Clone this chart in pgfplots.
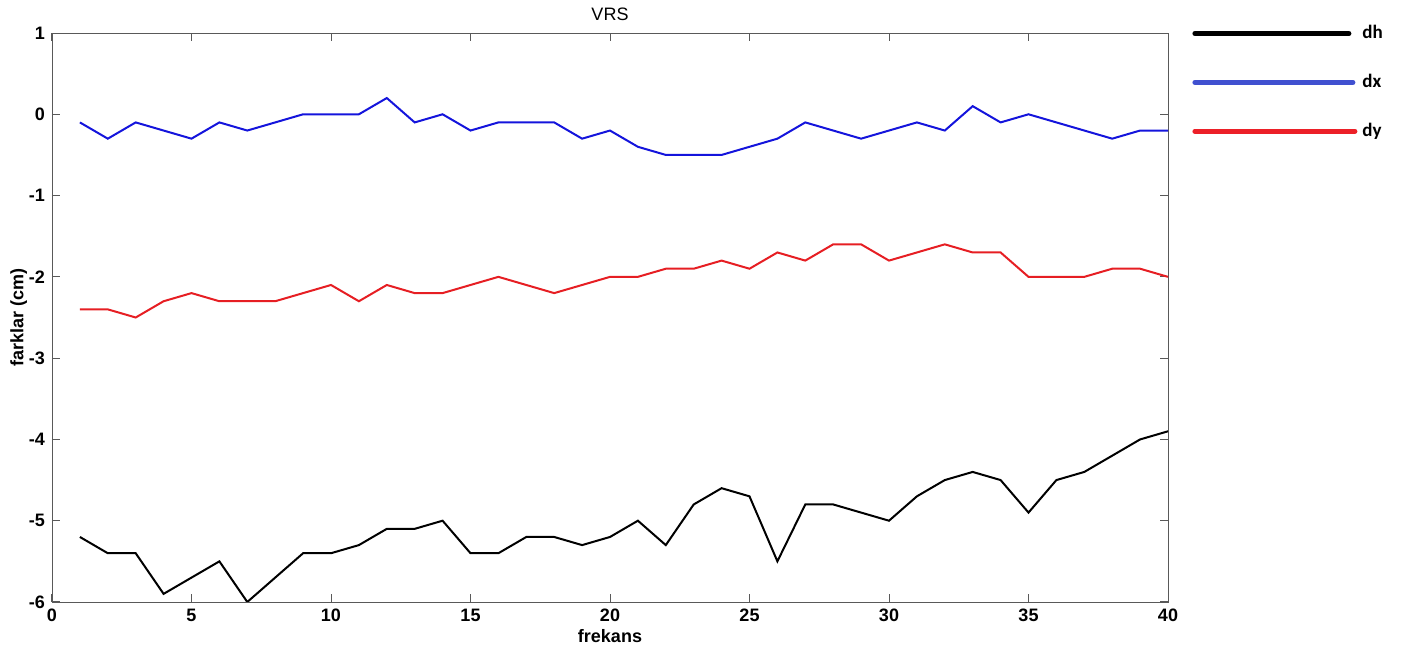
\documentclass[border=0pt]{standalone}
\usepackage{pgfplots}
\pgfplotsset{compat=1.18}
\usepackage{fontspec}
\setmainfont{Liberation Sans}
\newfontfamily\legfont{Carlito}
\definecolor{mblue}{RGB}{20,20,220}
\definecolor{mred}{RGB}{230,30,35}
\definecolor{lblue}{RGB}{64,80,208}
\definecolor{lred}{RGB}{236,32,40}
\begin{document}
\begin{tikzpicture}[x=1pt,y=1pt]
\useasboundingbox (-26,-24.5) rectangle (674.5,301);
\begin{axis}[
  at={(0,0)}, anchor=south west,
  scale only axis, width=558pt, height=284.5pt,
  xmin=0, xmax=40, ymin=-6, ymax=1,
  xtick={0,5,...,40}, ytick={-6,-5,...,1},
  tick align=inside, tick pos=both,
  major tick length=4pt,
  axis line style={gray!70!black},
  tick style={gray!70!black, line width=0.5pt},
  /pgf/number format/assume math mode=true,
  ticklabel style={font=\bfseries\fontsize{9}{10}\selectfont},
  title={VRS}, title style={font=\fontsize{9}{10}\selectfont, yshift=-3.5pt},
  xlabel={\bfseries frekans}, ylabel={\bfseries farklar (cm)},
  xlabel style={font=\fontsize{9}{10}\selectfont, yshift=3pt},
  ylabel style={font=\fontsize{9}{10}\selectfont, yshift=-6pt},
  legend style={at={(axis description cs:1,1)}, anchor=north west, xshift=12pt, yshift=6.5pt,
    draw=none, fill=none, font=\legfont\bfseries\fontsize{9.5}{10}\selectfont,
    row sep=11.25pt, inner sep=0pt, nodes={inner sep=2.5pt}},
  legend cell align=left,
]
\addplot[black, line width=1pt, forget plot] coordinates {
(1,-5.2)(2,-5.4)(3,-5.4)(4,-5.9)(5,-5.7)(6,-5.5)(7,-6.0)(8,-5.7)(9,-5.4)(10,-5.4)
(11,-5.3)(12,-5.1)(13,-5.1)(14,-5.0)(15,-5.4)(16,-5.4)(17,-5.2)(18,-5.2)(19,-5.3)(20,-5.2)
(21,-5.0)(22,-5.3)(23,-4.8)(24,-4.6)(25,-4.7)(26,-5.5)(27,-4.8)(28,-4.8)(29,-4.9)(30,-5.0)
(31,-4.7)(32,-4.5)(33,-4.4)(34,-4.5)(35,-4.9)(36,-4.5)(37,-4.4)(38,-4.2)(39,-4.0)(40,-3.9)};
\addplot[mblue, line width=1pt, forget plot] coordinates {
(1,-0.1)(2,-0.3)(3,-0.1)(4,-0.2)(5,-0.3)(6,-0.1)(7,-0.2)(8,-0.1)(9,0)(10,0)
(11,0)(12,0.2)(13,-0.1)(14,0)(15,-0.2)(16,-0.1)(17,-0.1)(18,-0.1)(19,-0.3)(20,-0.2)
(21,-0.4)(22,-0.5)(23,-0.5)(24,-0.5)(25,-0.4)(26,-0.3)(27,-0.1)(28,-0.2)(29,-0.3)(30,-0.2)
(31,-0.1)(32,-0.2)(33,0.1)(34,-0.1)(35,0)(36,-0.1)(37,-0.2)(38,-0.3)(39,-0.2)(40,-0.2)};
\addplot[mred, line width=1pt, forget plot] coordinates {
(1,-2.4)(2,-2.4)(3,-2.5)(4,-2.3)(5,-2.2)(6,-2.3)(7,-2.3)(8,-2.3)(9,-2.2)(10,-2.1)
(11,-2.3)(12,-2.1)(13,-2.2)(14,-2.2)(15,-2.1)(16,-2.0)(17,-2.1)(18,-2.2)(19,-2.1)(20,-2.0)
(21,-2.0)(22,-1.9)(23,-1.9)(24,-1.8)(25,-1.9)(26,-1.7)(27,-1.8)(28,-1.6)(29,-1.6)(30,-1.8)
(31,-1.7)(32,-1.6)(33,-1.7)(34,-1.7)(35,-2.0)(36,-2.0)(37,-2.0)(38,-1.9)(39,-1.9)(40,-2.0)};
\addlegendimage{legend image code/.code={\draw[black, line width=2.5pt, line cap=round] (0pt,0pt) -- (77pt,0pt);}}
\addlegendentry{dh}
\addlegendimage{legend image code/.code={\draw[lblue, line width=2.5pt, line cap=round] (0pt,0pt) -- (79pt,0pt);}}
\addlegendentry{dx}
\addlegendimage{legend image code/.code={\draw[lred, line width=2.5pt, line cap=round] (0pt,0pt) -- (80pt,0pt);}}
\addlegendentry{dy}
\end{axis}
\end{tikzpicture}
\end{document}
